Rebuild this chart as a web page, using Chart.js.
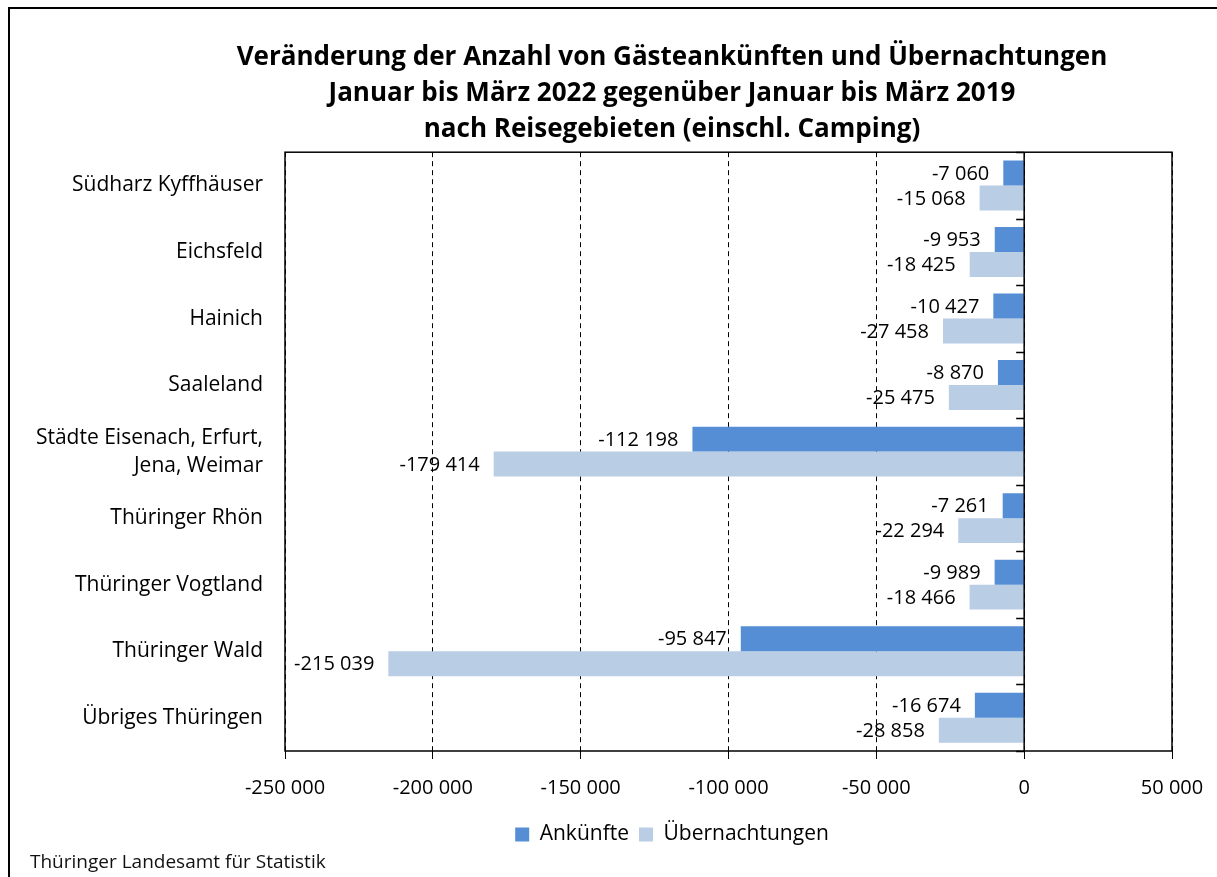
<!DOCTYPE html>
<html lang="de">
<head>
<meta charset="UTF-8" />
<title>Gästeankünfte und Übernachtungen nach Reisegebieten</title>
<script src="https://cdn.jsdelivr.net/npm/chart.js@4"></script>
<style>
  html, body { margin: 0; padding: 0; background: #fff; overflow: hidden; }
  body { width: 1217px; height: 877px; position: relative; font-family: "Open Sans", sans-serif; }
  .frame { position: absolute; left: 8px; top: 7px; width: 1324px; height: 880px; border: 2px solid #000; }
  .frame canvas { display: block; }
  .source { position: absolute; left: 30px; top: 850px; font-size: 19px; line-height: 22px; color: #111; }
</style>
</head>
<body>
<div class="frame">
  <canvas id="chart" width="1324" height="868"></canvas>
</div>
<div class="source">Thüringer Landesamt für Statistik</div>
<script>
const regions = [
  "Südharz Kyffhäuser",
  "Eichsfeld",
  "Hainich",
  "Saaleland",
  ["Städte Eisenach, Erfurt,", "Jena, Weimar"],
  "Thüringer Rhön",
  "Thüringer Vogtland",
  "Thüringer Wald",
  "Übriges Thüringen",
];
const ankuenfte = [-7060, -9953, -10427, -8870, -112198, -7261, -9989, -95847, -16674];
const uebernachtungen = [-15068, -18425, -27458, -25475, -179414, -22294, -18466, -215039, -28858];

const FONT = "'Open Sans'";

function fmt(v) {
  const s = Math.abs(v).toString().replace(/\B(?=(\d{3})+(?!\d))/g, " ");
  return (v < 0 ? "-" : "") + s;
}

// Werte am Balkenende, Nulllinie mit Kategorie-Strichen, Rahmen um die Zeichenfläche
const extras = {
  id: "extras",
  afterDatasetsDraw(chart) {
    const { ctx, chartArea: a, scales } = chart;
    const x0 = scales.x.getPixelForValue(0);
    ctx.save();
    ctx.strokeStyle = "#000";
    ctx.lineWidth = 1.5;
    ctx.beginPath();
    ctx.moveTo(x0, a.top);
    ctx.lineTo(x0, a.bottom);
    for (let i = 0; i <= regions.length; i++) {
      const y = Math.round(scales.y.getPixelForValue(i - 0.5)) + 0.5;
      ctx.moveTo(x0 - 8, y);
      ctx.lineTo(x0, y);
    }
    ctx.stroke();
    ctx.strokeRect(a.left, a.top, a.right - a.left, a.bottom - a.top);

    ctx.font = "20px " + FONT;
    ctx.fillStyle = "#000";
    ctx.textAlign = "right";
    ctx.textBaseline = "middle";
    chart.data.datasets.forEach((ds, i) => {
      chart.getDatasetMeta(i).data.forEach((bar, j) => {
        ctx.fillText(fmt(ds.data[j]), bar.x - 14, bar.y + 1);
      });
    });
    ctx.restore();
  },
};

new Chart(document.getElementById("chart"), {
  type: "bar",
  data: {
    labels: regions,
    datasets: [
      {
        label: "Ankünfte",
        data: ankuenfte,
        backgroundColor: "#558ED5",
        borderWidth: 0,
      },
      {
        label: "Übernachtungen",
        data: uebernachtungen,
        backgroundColor: "#B9CDE5",
        borderWidth: 0,
      },
    ],
  },
  options: {
    indexAxis: "y",
    responsive: false,
    animation: false,
    categoryPercentage: 0.75,
    barPercentage: 1.0,
    layout: { padding: { left: 0, right: 0, top: 0, bottom: 22 } },
    plugins: {
      title: {
        display: true,
        text: [
          "Veränderung der Anzahl von Gästeankünften und Übernachtungen",
          "Januar bis März 2022 gegenüber Januar bis März 2019",
          "nach Reisegebieten (einschl. Camping)",
        ],
        color: "#000",
        font: { family: FONT, size: 26, weight: "bold", lineHeight: 1.4 },
        padding: { top: 30, bottom: 4 },
      },
      legend: {
        position: "bottom",
        labels: {
          color: "#000",
          font: { family: FONT, size: 21 },
          boxWidth: 14,
          boxHeight: 14,
          padding: 10,
        },
      },
      tooltip: { enabled: false },
    },
    scales: {
      x: {
        min: -250000,
        max: 50000,
        ticks: {
          stepSize: 50000,
          color: "#000",
          font: { family: FONT, size: 20 },
          padding: 17,
          maxRotation: 0,
          callback: (v) => fmt(v),
        },
        grid: {
          color: "#000",
          lineWidth: 1,
          drawTicks: true,
          tickLength: 8,
          tickColor: "#000",
          tickBorderDash: [],
        },
        border: { display: false, dash: [5, 4] },
        afterFit: (s) => { s.height -= 3; },
      },
      y: {
        ticks: {
          color: "#000",
          font: { family: FONT, size: 21, lineHeight: 1.33 },
          padding: 22,
        },
        grid: { display: false, drawTicks: false },
        border: { display: false },
        afterFit: (s) => { s.width = 275; },
      },
      yRight: {
        type: "category",
        position: "right",
        display: true,
        ticks: { display: false },
        grid: { display: false, drawTicks: false },
        border: { display: false },
        afterFit: (s) => { s.width = 162; },
      },
    },
  },
  plugins: [extras],
});
</script>
</body>
</html>
